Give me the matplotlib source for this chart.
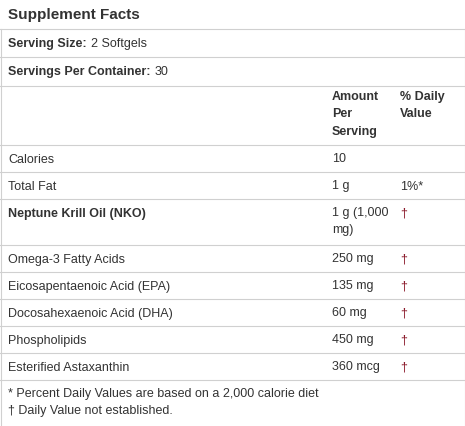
import matplotlib
matplotlib.use("Agg")
import matplotlib.pyplot as plt

plt.rcParams['font.family'] = ['Liberation Sans', 'DejaVu Sans']

title = "Supplement Facts"
serving_size = "2 Softgels"
servings = "30"
nutrients = ["Calories", "Total Fat", "Neptune Krill Oil (NKO)", "Omega-3 Fatty Acids",
             "Eicosapentaenoic Acid (EPA)", "Docosahexaenoic Acid (DHA)", "Phospholipids",
             "Esterified Astaxanthin"]
amounts = ["10", "1 g", "1 g (1,000\nmg)", "250 mg", "135 mg", "60 mg", "450 mg", "360 mcg"]
dvs = ["", "1%*", "†", "†", "†", "†", "†", "†"]
bold_rows = [False, False, True, False, False, False, False, False]
footnotes = ["* Percent Daily Values are based on a 2,000 calorie diet", "† Daily Value not established."]

W, H = 465, 427
fig = plt.figure(figsize=(W/100, H/100), dpi=100)
ax = fig.add_axes([0, 0, 1, 1])
ax.set_xlim(0, W); ax.set_ylim(H, 0); ax.axis('off')
fs = 9
lc = '#d0d0d0'
tc = '#333333'

def hline(y):
    ax.plot([0, W], [y, y], color=lc, lw=0.8)

ax.text(8, 15, title, fontsize=11, fontweight='bold', va='center', color=tc)
hline(30)
t1 = ax.text(8, 44, "Serving Size:", fontsize=fs, fontweight='bold', va='center', color=tc)
ax.annotate(serving_size, xy=(1, 0.5), xycoords=t1, xytext=(3, 0), textcoords='offset points',
            fontsize=fs, va='center', color=tc)
hline(58)
t2 = ax.text(8, 72, "Servings Per Container:", fontsize=fs, fontweight='bold', va='center', color=tc)
ax.annotate(servings, xy=(1, 0.5), xycoords=t2, xytext=(3, 0), textcoords='offset points',
            fontsize=fs, va='center', color=tc)
hline(87)
ax.text(332, 91, "Amount\nPer\nServing", fontsize=fs, fontweight='bold', va='top', color=tc, linespacing=1.6)
ax.text(400, 91, "% Daily\nValue", fontsize=fs, fontweight='bold', va='top', color=tc, linespacing=1.6)
hline(146)

y = 146
for name, amt, dv, b in zip(nutrients, amounts, dvs, bold_rows):
    two = "\n" in amt
    h = 46 if two else 27
    ty = y + 7
    ax.text(8, ty + 7, name, fontsize=fs, fontweight='bold' if b else 'normal', va='center', color=tc)
    ax.text(332, ty, amt, fontsize=fs, va='top', color=tc, linespacing=1.55)
    ax.text(400, ty + 7, dv, fontsize=fs, va='center', color='#8b1a2b' if dv == "†" else tc)
    y += h
    hline(y)

ax.text(8, y + 7, "\n".join(footnotes), fontsize=fs, va='top', color=tc, linespacing=1.55)
ax.plot([0.5, 0.5], [30, H], color=lc, lw=0.8)
ax.plot([W-0.5, W-0.5], [30, H], color=lc, lw=0.8)
fig.savefig("out.png", dpi=100)
